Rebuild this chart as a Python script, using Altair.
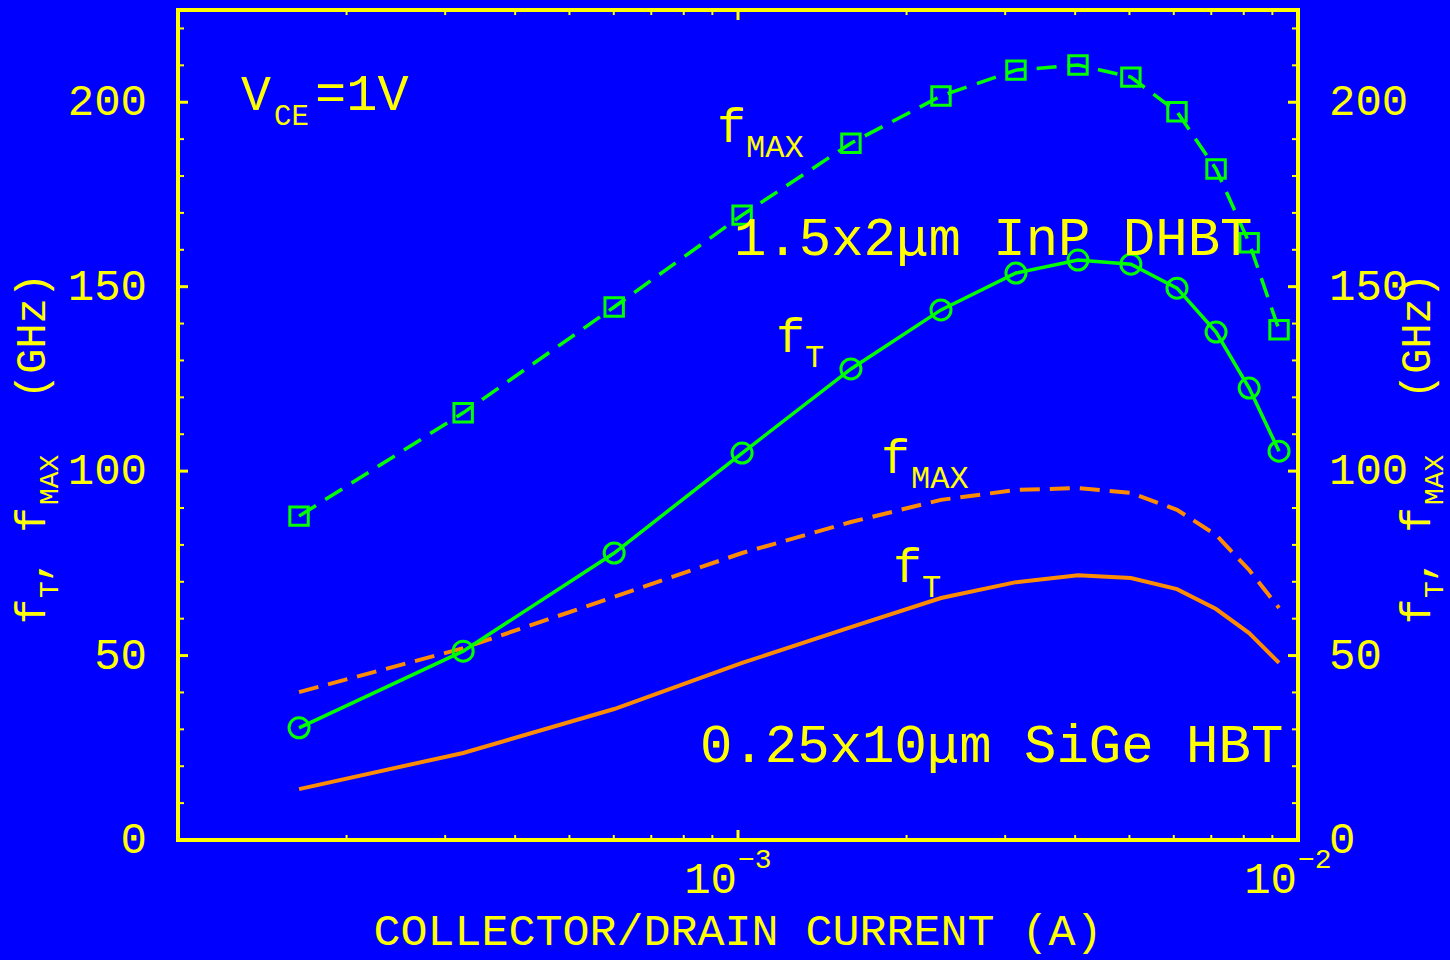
import altair as alt
import pandas as pd

# ---------------- data ----------------
current_A = [1.645e-4, 3.23e-4, 6.01e-4, 1.017e-3, 1.591e-3, 2.304e-3, 3.136e-3,
             4.047e-3, 5.03e-3, 6.08e-3, 7.14e-3, 8.18e-3, 9.25e-3]
inp_fmax = [87.8, 115.8, 144.5, 169.4, 188.9, 201.7, 208.7, 210.1, 206.8, 197.4, 181.9, 161.9, 138.3]
inp_ft = [30.4, 51.2, 77.8, 104.9, 127.7, 143.7, 153.7, 157.2, 156.1, 149.6, 137.7, 122.5, 105.4]
sige_fmax = [40.1, 52.0, 65.9, 77.8, 86.2, 92.2, 94.9, 95.4, 94.1, 89.5, 82.7, 73.2, 62.9]
sige_ft = [13.8, 23.6, 35.5, 48.0, 57.7, 65.6, 69.9, 71.8, 71.0, 68.0, 62.6, 56.1, 48.0]

x_major_ticks = [1e-3]
x_minor_ticks = [2e-4, 3e-4, 4e-4, 5e-4, 6e-4, 7e-4, 8e-4, 9e-4,
                 2e-3, 3e-3, 4e-3, 5e-3, 6e-3, 7e-3, 8e-3, 9e-3]
x_label_values = [1e-3, 1e-2]
x_label_base = ["10", "10"]
x_label_exp = ["\u22123", "\u22122"]

y_major_ticks = [50, 100, 150, 200]
y_minor_ticks = [10, 20, 30, 40, 60, 70, 80, 90, 110, 120, 130, 140,
                 160, 170, 180, 190, 210, 220]
y_label_values = [0, 50, 100, 150, 200]

# ---------------- style ----------------
FONT = "Liberation Mono"
YEL = "#FFFF00"
GREEN = "#00FF00"
ORANGE = "#FF8C00"
BLUE = "#0000FF"
W, H = 1120, 830

xscale = alt.Scale(type="log", domain=[1e-4, 1e-2])
yscale = alt.Scale(domain=[0, 225])

df = pd.DataFrame({"I": current_A, "inp_fmax": inp_fmax, "inp_ft": inp_ft,
                   "sige_fmax": sige_fmax, "sige_ft": sige_ft})

def xenc(field="I"):
    return alt.X(f"{field}:Q", scale=xscale, axis=None)

def yenc(field):
    return alt.Y(f"{field}:Q", scale=yscale, axis=None)

base = alt.Chart(df)

sige_ft_line = base.mark_line(color=ORANGE, strokeWidth=4).encode(x=xenc(), y=yenc("sige_ft"))
sige_fmax_line = base.mark_line(color=ORANGE, strokeWidth=4, strokeDash=[20, 10]).encode(
    x=xenc(), y=yenc("sige_fmax"))
inp_ft_line = base.mark_line(color=GREEN, strokeWidth=3.5).encode(x=xenc(), y=yenc("inp_ft"))
inp_ft_pts = base.mark_point(shape="circle", filled=False, size=400, strokeWidth=3,
                             color=GREEN, opacity=1).encode(x=xenc(), y=yenc("inp_ft"))
inp_fmax_line = base.mark_line(color=GREEN, strokeWidth=3.5, strokeDash=[20, 11]).encode(
    x=xenc(), y=yenc("inp_fmax"))
inp_fmax_pts = base.mark_point(shape="square", filled=False, size=340, strokeWidth=3,
                               color=GREEN, opacity=1).encode(x=xenc(), y=yenc("inp_fmax"))

# ---------------- ticks (inward) ----------------
def xticks(vals, length, sw):
    d = pd.DataFrame({"v": vals})
    bot = alt.Chart(d).mark_rule(color=YEL, strokeWidth=sw).encode(
        x=xenc("v"), y=alt.value(H), y2=alt.value(H - length))
    top = alt.Chart(d).mark_rule(color=YEL, strokeWidth=sw).encode(
        x=xenc("v"), y=alt.value(0), y2=alt.value(length))
    return [bot, top]

def yticks(vals, length, sw):
    d = pd.DataFrame({"v": vals})
    left = alt.Chart(d).mark_rule(color=YEL, strokeWidth=sw).encode(
        y=yenc("v"), x=alt.value(0), x2=alt.value(length))
    right = alt.Chart(d).mark_rule(color=YEL, strokeWidth=sw).encode(
        y=yenc("v"), x=alt.value(W), x2=alt.value(W - length))
    return [left, right]

tick_layers = (xticks(x_minor_ticks, 5, 2) + xticks(x_major_ticks, 10, 3) +
               yticks(y_minor_ticks, 6, 2) + yticks(y_major_ticks, 10, 3))

# ---------------- tick labels ----------------
ylab_df = pd.DataFrame({"v": y_label_values})
ylab_left = alt.Chart(ylab_df).mark_text(font=FONT, fontSize=44, color=YEL, align="right",
                                         baseline="middle").encode(
    y=yenc("v"), x=alt.value(-31), text=alt.Text("v:Q", format="d"))
ylab_right = alt.Chart(ylab_df).mark_text(font=FONT, fontSize=44, color=YEL, align="left",
                                          baseline="middle").encode(
    y=yenc("v"), x=alt.value(W + 31), text=alt.Text("v:Q", format="d"))

xlab_df = pd.DataFrame({"v": x_label_values, "b": x_label_base, "e": x_label_exp})
xlab_base = alt.Chart(xlab_df).mark_text(font=FONT, fontSize=44, color=YEL, align="right",
                                         baseline="alphabetic", dx=-1).encode(
    x=xenc("v"), y=alt.value(883), text="b:N")
xlab_exp = alt.Chart(xlab_df).mark_text(font=FONT, fontSize=28, color=YEL, align="left",
                                        baseline="alphabetic", dx=0).encode(
    x=xenc("v"), y=alt.value(858), text="e:N")

# ---------------- annotations ----------------
def label(txt, x, y, size, angle=0, align="left"):
    return alt.Chart(pd.DataFrame({"t": [txt]})).mark_text(
        font=FONT, fontSize=size, color=YEL, align=align, baseline="alphabetic",
        angle=angle).encode(x=alt.value(x), y=alt.value(y), text="t:N")

annotations = [
    # V_CE = 1V
    label("V", 63, 100, 50),
    label("CE", 96, 115, 29),
    label("=1V", 137, 100, 52),
    # InP labels
    label("f", 539, 132, 48),
    label("MAX", 568, 147, 32),
    label("1.5x2\u03bcm InP DHBT", 556, 245, 54),
    label("f", 598, 342, 48),
    label("T", 627, 357, 32),
    # SiGe labels
    label("f", 703, 463, 48),
    label("MAX", 733, 478, 32),
    label("f", 715, 572, 48),
    label("T", 744, 587, 32),
    label("0.25x10\u03bcm SiGe HBT", 522, 752, 54),
    # x title
    label("COLLECTOR/DRAIN CURRENT (A)", 560, 935, 45, align="center"),
]

# rotated y titles (left and right)
def ytitle(xmain, xsub):
    return [
        label("f", xmain, 614, 42, angle=270),
        label("T", xsub, 588, 28, angle=270),
        label(", f", xmain, 573, 42, angle=270),
        label("MAX", xsub, 495, 28, angle=270),
        label("(GHz)", xmain, 389, 42, angle=270),
    ]

titles = ytitle(-133, -120) + ytitle(1252, 1265)

chart = alt.layer(
    *tick_layers,
    sige_ft_line, sige_fmax_line,
    inp_ft_line, inp_fmax_line, inp_ft_pts, inp_fmax_pts,
    ylab_left, ylab_right, xlab_base, xlab_exp,
    *annotations, *titles,
).properties(
    width=W, height=H, background=BLUE,
    autosize=alt.AutoSizeParams(type="none"),
    padding={"left": 178, "top": 10, "right": 152, "bottom": 120},
).configure_view(stroke=YEL, strokeWidth=4)

chart.save("out.html", embed_options={"renderer": "svg", "actions": False})
